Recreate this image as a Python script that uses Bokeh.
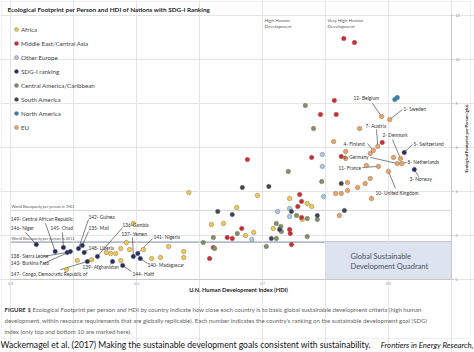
from bokeh.plotting import figure
from bokeh.models import (Range1d, LinearAxis, FixedTicker, BoxAnnotation, Label,
                          ColumnDataSource, Legend, LegendItem)
from bokeh.core.properties import value
from bokeh.embed import file_html
from bokeh.resources import INLINE

# ---------------- data ----------------
regions = ["Africa", "Middle East/Central Asia", "Other Europe", "SDG-I ranking",
           "Central America/Caribbean", "South America", "North America", "EU"]

africa_hdi = [0.583, 0.692, 0.659, 0.619, 0.638, 0.673, 0.686, 0.717, 0.743, 0.771, 0.778, 0.763,
              0.551, 0.575, 0.575, 0.538, 0.524, 0.511, 0.489, 0.484, 0.475, 0.452, 0.459, 0.467,
              0.475, 0.429, 0.406, 0.389, 0.495]
africa_ef = [3.95, 3.82, 3.27, 2.50, 2.55, 2.00, 2.14, 2.32, 3.68, 3.45, 3.32, 2.73,
             1.50, 1.27, 1.00, 1.00, 0.95, 1.36, 1.36, 1.68, 1.41, 1.23, 1.18, 1.18,
             0.86, 0.90, 0.86, 0.45, 2.55]

mideast_hdi = [0.829, 0.846, 0.814, 0.792, 0.817, 0.890, 0.825, 0.676, 0.778, 0.759, 0.762,
               0.756, 0.762, 0.743, 0.744, 0.667, 0.652, 0.644, 0.622, 0.616, 0.746]
mideast_ef = [10.95, 10.77, 8.14, 7.50, 7.50, 6.23, 5.59, 5.45, 5.55, 3.86, 3.55,
              3.32, 2.82, 2.27, 2.09, 2.32, 1.86, 1.91, 1.45, 0.95, 1.59]

other_europe_hdi = [0.795, 0.795, 0.797, 0.724, 0.743, 0.743, 0.683]
other_europe_ef = [5.68, 5.14, 3.77, 3.09, 3.23, 2.86, 1.82]

south_america_hdi = [0.668, 0.710, 0.652, 0.629, 0.746, 0.787, 0.714, 0.727, 0.825, 0.830]
south_america_ef = [4.18, 4.23, 2.95, 3.09, 3.09, 2.91, 1.86, 2.27, 4.36, 3.14]

central_america_hdi = [0.768, 0.781, 0.741, 0.794, 0.754, 0.787, 0.771, 0.722, 0.729, 0.730,
                       0.660, 0.722, 0.771, 0.706, 0.622, 0.606, 0.624]
central_america_ef = [7.91, 6.86, 4.91, 4.45, 2.91, 2.73, 2.77, 2.55, 2.41, 2.18,
                      2.09, 1.86, 1.95, 1.50, 1.91, 1.68, 1.41]

north_america_hdi = [0.910, 0.914]
north_america_ef = [8.18, 8.27]

eu_hdi = [0.854, 0.871, 0.813, 0.832, 0.832, 0.908, 0.865, 0.871, 0.863, 0.851, 0.835, 0.835,
          0.825, 0.816, 0.873, 0.822]
eu_ef = [6.86, 5.73, 6.27, 5.82, 5.50, 5.55, 5.18, 4.59, 4.36, 4.18, 4.41, 4.05,
         3.91, 3.91, 3.68, 2.91]

# SDG-I ranked (labelled) countries
ranked_label = ["12- Belgium", "1- Sweden", "7- Austria", "2- Denmark", "4- Finland",
                "5- Switzerland", "6- Germany", "8- Netherlands", "11- France", "3- Norway",
                "10- United Kingdom",
                "149- Central African Republic", "146- Niger", "145- Chad", "142- Guinea",
                "135- Mali", "148- Liberia", "138- Sierra Leone", "143- Burkina Faso",
                "147- Congo, Democratic Republic of", "139- Afghanistan", "136-Gambia",
                "137- Yemen", "141- Nigeria", "140- Madagascar", "144- Haiti"]
ranked_region = ["EU", "EU", "EU", "EU", "EU", "SDG-I ranking", "EU", "EU", "EU",
                 "SDG-I ranking", "EU"] + ["SDG-I ranking"] * 15
ranked_hdi = [0.889, 0.902, 0.883, 0.919, 0.876, 0.925, 0.914, 0.921, 0.884, 0.941, 0.900,
              0.371, 0.341, 0.384, 0.408, 0.414, 0.417, 0.390, 0.395, 0.422, 0.462, 0.438,
              0.495, 0.502, 0.506, 0.478]
ranked_ef = [7.41, 7.27, 6.05, 5.50, 5.86, 5.77, 5.27, 5.27, 5.14, 5.00, 4.91,
             1.27, 1.59, 1.45, 1.41, 1.55, 1.23, 1.23, 1.27, 0.82, 0.82, 1.05,
             1.05, 1.18, 0.95, 0.64]

x_ticks = [0.3, 0.5, 0.7, 0.9]
y_ticks = [0, 2, 4, 6, 8, 10, 12]
hdi_min, hdi_max = 0.3, 1.0
ef_min, ef_max = 0, 12
hdi_high, hdi_very_high = 0.7, 0.8
biocap_1961 = 3.14
biocap_2012 = 1.7

# ---------------- layout (label placement, not data) ----------------
label_x = [0.8444, 0.9238, 0.8635, 0.8905, 0.8286, 0.9397, 0.8286, 0.9302, 0.8206, 0.9333, 0.8794,
           0.3005, 0.3005, 0.3635, 0.4238, 0.4238, 0.4238, 0.3005, 0.3005, 0.3005, 0.4143, 0.4778,
           0.4762, 0.5270, 0.5175, 0.4937]
label_y = [8.23, 7.77, 7.00, 6.55, 6.18, 6.18, 5.55, 5.32, 5.05, 4.55, 3.95,
           2.73, 2.32, 2.32, 2.86, 2.32, 1.45, 1.05, 0.73, 0.27, 0.55, 2.50,
           2.09, 1.91, 0.64, 0.27]
lead_x = [0.8746, 0.9222, 0.8810, 0.9063, 0.8667, 0.9381, 0.8714, 0.9286, 0.8587, 0.9476, 0.9111,
          0.3556, 0.3238, 0.3825, 0.4238, 0.4238, 0.4238, 0.3524, 0.3524, 0.3794, 0.4587, 0.4778,
          0.4937, 0.5254, 0.5175, 0.4921]
lead_y = [8.00, 7.73, 6.82, 6.36, 6.18, 6.14, 5.55, 5.32, 5.09, 4.68, 4.14,
          2.55, 2.14, 2.14, 2.73, 2.18, 1.36, 1.05, 0.73, 0.45, 0.68, 2.36,
          1.91, 1.86, 0.73, 0.36]

colors = {
    "Africa": "#f6c844",
    "Middle East/Central Asia": "#e2222b",
    "Other Europe": "#a9c9e8",
    "SDG-I ranking": "#252c6c",
    "Central America/Caribbean": "#80925f",
    "South America": "#3d4650",
    "North America": "#2f86b8",
    "EU": "#f2a25c",
}

FONT = "Lato"
W, H = 474, 352
# pixel placement of the plotting area inside the page
PX_LEFT, PX_RIGHT, PX_TOP, PX_BOTTOM = 10, 451, 15, 279
SX = (PX_RIGHT - PX_LEFT) / (hdi_max - hdi_min)
SY = (PX_BOTTOM - PX_TOP) / (ef_max - ef_min)


def cx(px):
    return hdi_min + (px - PX_LEFT) / SX


def cy(py):
    return ef_min + (PX_BOTTOM - py) / SY


p = figure(width=W, height=H, output_backend="svg", toolbar_location=None,
           x_range=Range1d(cx(0), cx(W)), y_range=Range1d(cy(H), cy(0)),
           x_axis_location=None, y_axis_location=None,
           min_border=0, min_border_left=0, min_border_right=0,
           min_border_top=0, min_border_bottom=0)
p.outline_line_color = None
p.background_fill_color = "white"
p.border_fill_color = "white"

# axes (fixed inside the page)
xaxis = LinearAxis(ticker=FixedTicker(ticks=x_ticks), fixed_location=ef_min,
                   bounds=(hdi_min, hdi_max))
xaxis.major_label_text_font_size = "3.6px"
xaxis.major_label_text_color = "#888888"
xaxis.major_label_standoff = 2
xaxis.major_tick_out = 0
xaxis.major_tick_in = 0
xaxis.minor_tick_out = 0
xaxis.minor_tick_in = 0
xaxis.axis_line_color = "#c8c8c8"
p.add_layout(xaxis, "below")

yaxis = LinearAxis(ticker=FixedTicker(ticks=y_ticks), fixed_location=hdi_max,
                   bounds=(ef_min, ef_max + 0.1))
yaxis.major_label_text_font_size = "3.6px"
yaxis.major_label_text_color = "#888888"
yaxis.major_label_standoff = 2
yaxis.major_tick_out = 2
yaxis.major_tick_in = 0
yaxis.major_tick_line_color = "#c8c8c8"
yaxis.minor_tick_out = 0
yaxis.minor_tick_in = 0
yaxis.axis_line_color = "#c8c8c8"
p.add_layout(yaxis, "right")

# quadrant and reference lines
quad = BoxAnnotation(left=hdi_very_high, right=hdi_max, bottom=ef_min, top=biocap_2012,
                     fill_color="#dde4ef", fill_alpha=1.0, line_color="#b9c3d6",
                     line_width=1, level="underlay")
p.add_layout(quad)
p.segment(x0=[hdi_high, hdi_very_high], y0=[ef_min, ef_min],
          x1=[hdi_high, hdi_very_high], y1=[ef_max, ef_max],
          line_color="#a9a9a9", line_dash="1 1", line_width=0.8, level="underlay")
p.segment(x0=[hdi_min], y0=[biocap_1961], x1=[hdi_max], y1=[biocap_1961],
          line_color="#a0a0a0", line_dash="1 1", line_width=0.9, level="underlay")
p.segment(x0=[hdi_min], y0=[biocap_2012], x1=[hdi_max], y1=[biocap_2012],
          line_color="#b4bccb", line_width=1.6, level="underlay")

# leader lines
p.segment(x0=lead_x, y0=lead_y, x1=ranked_hdi, y1=ranked_ef, line_color="#4a4a4a",
          line_width=0.7)

# points
data = {
    "Africa": (africa_hdi, africa_ef),
    "Middle East/Central Asia": (mideast_hdi, mideast_ef),
    "Other Europe": (other_europe_hdi, other_europe_ef),
    "SDG-I ranking": ([], []),
    "Central America/Caribbean": (central_america_hdi, central_america_ef),
    "South America": (south_america_hdi, south_america_ef),
    "North America": (north_america_hdi, north_america_ef),
    "EU": (eu_hdi, eu_ef),
}
items = []
for reg in regions:
    xs = list(data[reg][0]) + [h for h, r in zip(ranked_hdi, ranked_region) if r == reg]
    ys = list(data[reg][1]) + [e for e, r in zip(ranked_ef, ranked_region) if r == reg]
    src = ColumnDataSource(dict(x=xs, y=ys))
    r = p.scatter("x", "y", source=src, size=4.5, fill_color=colors[reg], line_color="#666666",
                  line_width=0.4)
    items.append(LegendItem(label=reg, renderers=[r]))

legend = Legend(items=items, location=(11, H - 132), padding=0, margin=0, spacing=4,
                glyph_height=10, glyph_width=10, label_height=8, label_standoff=0,
                label_text_font=FONT, label_text_font_size="6.2px", label_text_color="#444444",
                border_line_alpha=0, background_fill_alpha=0)
p.add_layout(legend)

# country labels
p.text(x=label_x, y=label_y, text=ranked_label, text_font=value(FONT),
       text_font_size=value("4.8px"), text_baseline="middle", text_align="left",
       text_color="#333333")


def label(x, y, text, size, color="#555555", style="normal", baseline="middle",
          align="left", angle=0):
    p.add_layout(Label(x=x, y=y, text=text, text_font=FONT, text_font_size=size,
                       text_color=color, text_font_style=style, text_baseline=baseline,
                       text_align=align, angle=angle, angle_units="deg"))


label(cx(264), cy(19), "High Human", "4.6px")
label(cx(264), cy(25), "Development", "4.6px")
label(cx(327), cy(19), "Very High Human", "4.6px")
label(cx(327), cy(25), "Development", "4.6px")
label(cx(11), biocap_1961 + 0.06, "World Biocapacity per person in 1961", "3.8px",
      baseline="bottom")
label(cx(11), biocap_2012 + 0.06, "World Biocapacity per person in 2012", "3.8px",
      baseline="bottom")
label(cx(350), cy(256), "Global Sustainable", "7.5px", color="#46505e")
label(cx(350), cy(266), "Development Quadrant", "7.5px", color="#46505e")

# titles
label(cx(7), cy(9), "Ecological Footprint per Person and HDI of Nations with SDG-I Ranking",
      "6.4px", color="#1e1e1e", style="bold")
label(cx(466), cy(138), "Ecological Footprint per Person (gha)", "4.2px", color="#222222",
      style="bold", align="center", angle=90)
label(cx(238), cy(289), "U.N. Human Development Index (HDI)", "5.8px", color="#222222",
      style="bold", align="center")

# caption and citation
label(cx(4), cy(309), "FIGURE 1", "6px", color="#333333", style="bold")
label(cx(29), cy(309), "| Ecological Footprint per person and HDI by country indicate how close "
      "each country is to basic global sustainable development criteria (high human",
      "6.05px", color="#666666")
label(cx(4), cy(320), "development, within resource requirements that are globally replicable). "
      "Each number indicates the country's ranking on the sustainable development goal (SDG)",
      "6.05px", color="#666666")
label(cx(4), cy(331), "index (only top and bottom 10 are marked here).", "6.05px",
      color="#666666")
label(cx(0), cy(344), "Wackernagel et al. (2017)  Making the sustainable development goals "
      "consistent with sustainability.", "8.6px", color="#111111")
label(cx(473), cy(344), "Frontiers in Energy Research,", "7.8px", color="#111111",
      style="italic", align="right")

border = BoxAnnotation(left=cx(1), right=cx(470), top=cy(1), bottom=cy(338),
                       fill_alpha=0, line_color="#cfcfcf", line_width=1, level="overlay")
p.add_layout(border)

open("out.html", "w").write(file_html(p, INLINE))
